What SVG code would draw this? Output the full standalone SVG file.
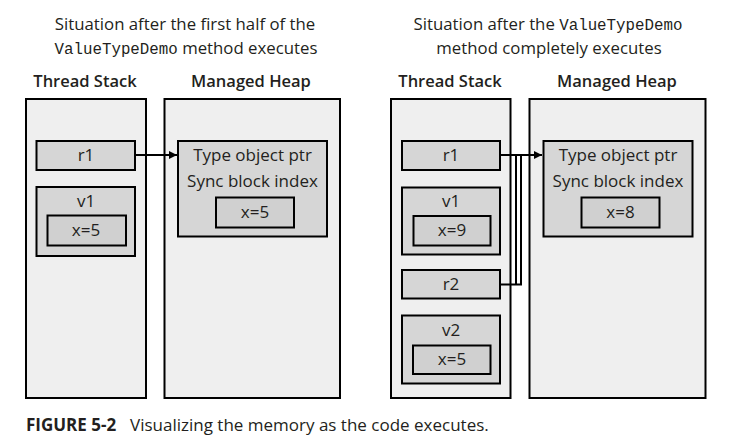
<svg xmlns="http://www.w3.org/2000/svg" width="732" height="448" viewBox="0 0 732 448">
<style>
.t{font-family:"Open Sans","Liberation Sans",sans-serif;fill:#231f20;}
.title{font-size:16.8px;text-anchor:middle;}
.mono{font-family:"Liberation Mono","DejaVu Sans Mono",monospace;font-size:15.8px;}
.hdr{font-size:16.5px;font-weight:600;text-anchor:middle;}
.lbl{font-size:17px;text-anchor:middle;}
.panel{fill:#efefef;stroke:#000;stroke-width:2;}
.box{fill:#d6d6d6;stroke:#000;stroke-width:2;}
.inner{fill:#d0d0d0;stroke:#000;stroke-width:2;}
.conn{fill:none;stroke:#000;stroke-width:2;}
.cap{font-size:17px;}
</style>
<defs>
<marker id="ah" viewBox="0 0 10 10" refX="10" refY="5" markerWidth="4" markerHeight="4" orient="auto" markerUnits="strokeWidth">
<path d="M0,0 L10,5 L0,10 z" fill="#000"/>
</marker>
</defs>

<g id="titles">
<text class="t title" x="185" y="30">Situation after the first half of the</text>
<text class="t title" x="186" y="54"><tspan class="mono">ValueTypeDemo</tspan> method executes</text>
<text class="t title" x="548" y="30">Situation after the <tspan class="mono">ValueTypeDemo</tspan></text>
<text class="t title" x="549" y="54">method completely executes</text>
<text class="t hdr" x="85" y="87">Thread Stack</text>
<text class="t hdr" x="251" y="87">Managed Heap</text>
<text class="t hdr" x="450" y="87">Thread Stack</text>
<text class="t hdr" x="617" y="87">Managed Heap</text>
</g>

<g id="left-stack">
<rect class="panel" x="26" y="99" width="120" height="299"/>
</g>
<g id="left-heap">
<rect class="panel" x="164.5" y="99" width="175.5" height="299"/>
</g>
<g id="left-r1">
<rect class="box" x="36.5" y="141" width="98.5" height="29"/>
<text class="t lbl" x="86" y="161">r1</text>
</g>
<g id="left-v1">
<rect class="box" x="36.5" y="187" width="98.5" height="69"/>
<text class="t lbl" x="86" y="207">v1</text>
<rect class="inner" x="47.5" y="215.5" width="78.5" height="30"/>
<text class="t lbl" x="86" y="236">x=5</text>
</g>
<g id="left-obj">
<rect class="box" x="178" y="141" width="149" height="95.5"/>
<text class="t lbl" x="252.5" y="161">Type object ptr</text>
<text class="t lbl" x="252.5" y="187">Sync block index</text>
<rect class="inner" x="216" y="197.5" width="78" height="30"/>
<text class="t lbl" x="255" y="218">x=5</text>
</g>

<g id="right-stack">
<rect class="panel" x="391" y="99" width="119.5" height="299"/>
</g>
<g id="right-heap">
<rect class="panel" x="529.5" y="99" width="176" height="299"/>
</g>
<g id="right-r1">
<rect class="box" x="402" y="141" width="98" height="29"/>
<text class="t lbl" x="451" y="161">r1</text>
</g>
<g id="right-v1">
<rect class="box" x="402" y="187.5" width="98" height="67"/>
<text class="t lbl" x="451" y="207">v1</text>
<rect class="inner" x="413.5" y="216" width="77" height="29.5"/>
<text class="t lbl" x="452" y="236">x=9</text>
</g>
<g id="right-r2">
<rect class="box" x="402" y="270" width="98" height="28.5"/>
<text class="t lbl" x="451" y="290">r2</text>
</g>
<g id="right-v2">
<rect class="box" x="402" y="315.5" width="98" height="68"/>
<text class="t lbl" x="451" y="336">v2</text>
<rect class="inner" x="413" y="345.5" width="77.5" height="28.5"/>
<text class="t lbl" x="452" y="365">x=5</text>
</g>
<g id="right-obj">
<rect class="box" x="543.5" y="141" width="149" height="95.5"/>
<text class="t lbl" x="618" y="161">Type object ptr</text>
<text class="t lbl" x="618" y="187">Sync block index</text>
<rect class="inner" x="581.5" y="197.5" width="78" height="30"/>
<text class="t lbl" x="620.5" y="218">x=8</text>
</g>

<g id="connectors">
<path class="conn" d="M135,155 H177" marker-end="url(#ah)"/>
<path class="conn" d="M500,155 H542" marker-end="url(#ah)"/>
<path class="conn" d="M500,284.5 H521 V155"/>
<path class="conn" d="M516,155 V284.5"/>
</g>

<g id="caption">
<text class="t cap" x="26" y="431"><tspan font-weight="700">FIGURE 5-2</tspan><tspan x="130">Visualizing the memory as the code executes.</tspan></text>
</g>
</svg>
